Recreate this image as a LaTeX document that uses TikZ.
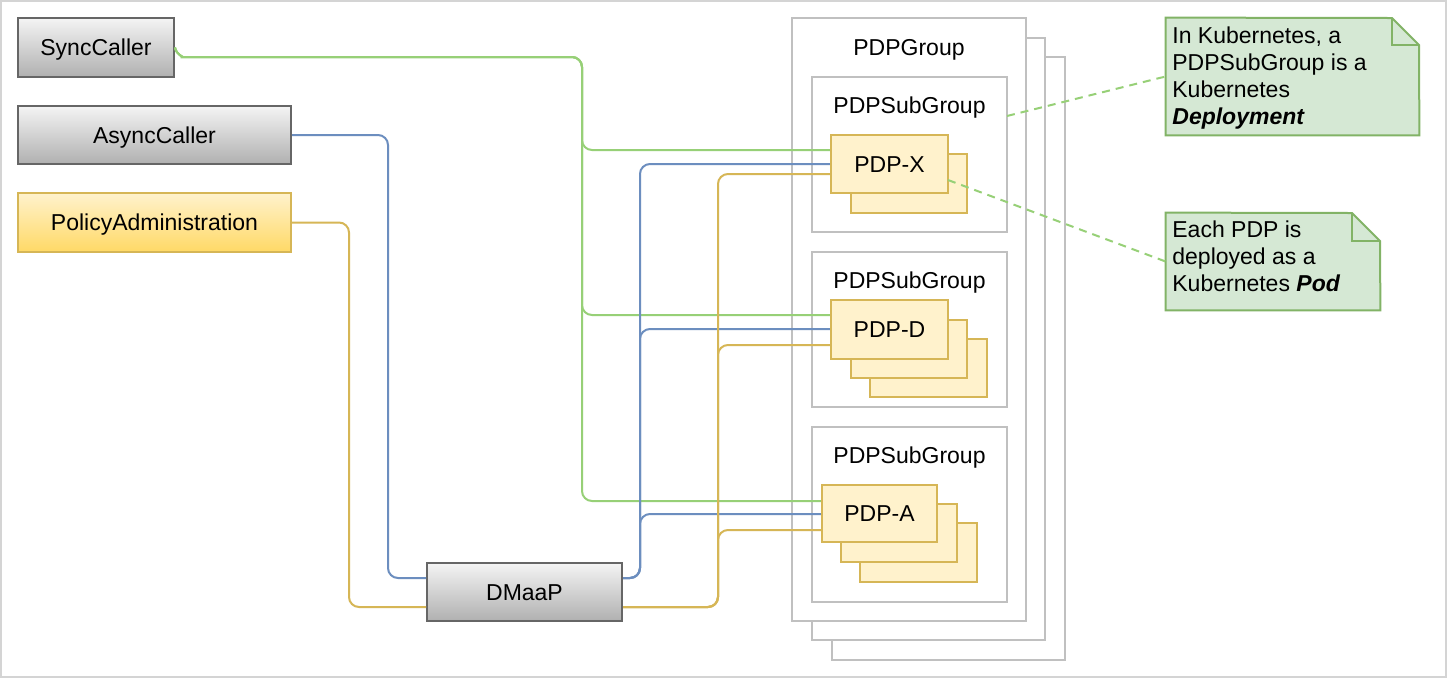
\documentclass[tikz,border=0pt]{standalone}
\usepackage{fontspec}
\setmainfont{Liberation Sans}
\usetikzlibrary{fit}
\definecolor{grn}{HTML}{97D077}
\definecolor{blu}{HTML}{6C8EBF}
\definecolor{gld}{HTML}{D6B656}
\definecolor{pdpfill}{HTML}{FFF2CC}
\definecolor{notefill}{HTML}{D5E8D4}
\definecolor{notedraw}{HTML}{82B366}
\definecolor{contdraw}{HTML}{C0C0C0}
\definecolor{framedraw}{HTML}{D4D4D4}
\definecolor{gtop}{HTML}{F4F4F4}
\definecolor{gbot}{HTML}{B0B0B0}
\definecolor{gdraw}{HTML}{666666}
\definecolor{ytop}{HTML}{FFF2CC}
\definecolor{ybot}{HTML}{FFD966}
\begin{document}
\begin{tikzpicture}[x=0.5pt,y=-0.5pt,
  every node/.style={font=\fontsize{11.5}{13.5}\selectfont, text=black},
  captext/.style={text height=8.2pt, text depth=0pt},
  greybox/.style={captext, draw=gdraw, line width=1pt, top color=gtop, bottom color=gbot, inner sep=0pt},
  yellowbox/.style={captext, draw=gld, line width=1pt, top color=ytop, bottom color=ybot, inner sep=0pt},
  contbox/.style={draw=contdraw, line width=1pt, fill=white, inner sep=0pt},
  pdpbox/.style={captext, draw=gld, line width=1pt, fill=pdpfill, inner sep=0pt},
  contlabel/.style={captext, inner sep=0pt},
  wire/.style={line width=1pt, rounded corners=5pt},
  greenwire/.style={wire, draw=grn},
  bluewire/.style={wire, draw=blu},
  goldwire/.style={wire, draw=gld},
  notelink/.style={draw=grn, line width=1pt, dash pattern=on 4pt off 3pt},
  noteshape/.style={draw=notedraw, fill=notefill, line width=1pt, line join=miter},
  notetext/.style={align=left, inner sep=0pt, anchor=north west}
]
\useasboundingbox (0,0) rectangle (1448,682);
\fill[white] (0,0) rectangle (1448,682);
\draw[framedraw, line width=1pt] (1,1) rectangle (1446,677);

% caller boxes
\node[greybox, minimum width=78pt, minimum height=29.5pt] (sync) at (96,47.5) {SyncCaller};
\node[greybox, minimum width=136.5pt, minimum height=29pt] (async) at (154.5,135) {AsyncCaller};
\node[yellowbox, minimum width=136.5pt, minimum height=29.5pt] (padmin) at (154.5,222.5) {PolicyAdministration};
\node[greybox, minimum width=97.5pt, minimum height=29pt] (dmaap) at (524.5,592) {DMaaP};

% PDPGroup stack
\node[contbox, fit={(832,57) (1065,660)}] (grp3) {};
\node[contbox, fit={(812,38) (1045,640)}] (grp2) {};
\node[contbox, fit={(792,18) (1026,621)}] (grp) {};
\node[contlabel] (grplabel) at (909,47) {PDPGroup};

% subgroups
\node[contbox, fit={(812,77) (1007,232)}] (sg1) {};
\node[contlabel] (sg1label) at (909.5,105) {PDPSubGroup};
\node[contbox, fit={(812,252) (1007,407)}] (sg2) {};
\node[contlabel] (sg2label) at (909.5,280) {PDPSubGroup};
\node[contbox, fit={(812,427) (1007,602)}] (sg3) {};
\node[contlabel] (sg3label) at (909.5,455) {PDPSubGroup};

% connectors: green
\draw[greenwire] (sync.east) to[out=-80,in=180] (192,57) -- (582,57) -- (582,150) -- (831,150);
\draw[greenwire] (sync.east) to[out=-80,in=180] (192,57) -- (582,57) -- (582,315) -- (831,315);
\draw[greenwire] (sync.east) to[out=-80,in=180] (192,57) -- (582,57) -- (582,501) -- (822,501);
% blue
\draw[bluewire] (async.east) -- (388,135) -- (388,578) -- (dmaap.west |- 0,578);
\draw[bluewire] (dmaap.east |- 0,578) -- (640,578) -- (640,164) -- (831,164);
\draw[bluewire] (dmaap.east |- 0,578) -- (640,578) -- (640,329) -- (831,329);
\draw[bluewire] (dmaap.east |- 0,578) -- (640,578) -- (640,514) -- (822,514);
% gold
\draw[goldwire] (padmin.east) -- (349,222.5) -- (349,607) -- (dmaap.west |- 0,607);
\draw[goldwire] (dmaap.east |- 0,607) -- (718,607) -- (718,174) -- (831,174);
\draw[goldwire] (dmaap.east |- 0,607) -- (718,607) -- (718,345) -- (831,345);
\draw[goldwire] (dmaap.east |- 0,607) -- (718,607) -- (718,530) -- (822,530);

% PDP-X
\node[pdpbox, fit={(851,154) (967,213)}] (pdpx2) {};
\node[pdpbox, minimum width=58.5pt, minimum height=29pt] (pdpx) at (889.5,164) {PDP-X};
% PDP-D
\node[pdpbox, fit={(870,339) (987,397)}] (pdpd3) {};
\node[pdpbox, fit={(851,320) (967,378)}] (pdpd2) {};
\node[pdpbox, minimum width=58.5pt, minimum height=29.5pt] (pdpd) at (889.5,329.5) {PDP-D};
% PDP-A
\node[pdpbox, fit={(860,523) (977,582)}] (pdpa3) {};
\node[pdpbox, fit={(841,504) (957,562)}] (pdpa2) {};
\node[pdpbox, minimum width=57.5pt, minimum height=28.5pt] (pdpa) at (879.5,513.5) {PDP-A};

% notes
\node[inner sep=0pt, fit={(1166,18) (1419,135)}] (note1) {};
\draw[noteshape] (note1.north west) -- (1392,18) -- (1419,45) -- (note1.south east) -- (note1.south west) -- cycle;
\draw[noteshape, fill=none] (1392,18) -- (1392,45) -- (1419,45);
\node[notetext] (note1text) at (1172,26) {In Kubernetes, a\\PDPSubGroup is a\\Kubernetes\\\textbf{\textit{Deployment}}};

\node[inner sep=0pt, fit={(1166,213) (1380,310)}] (note2) {};
\draw[noteshape] (note2.north west) -- (1352,213) -- (1380,241) -- (note2.south east) -- (note2.south west) -- cycle;
\draw[noteshape, fill=none] (1352,213) -- (1352,241) -- (1380,241);
\node[notetext] (note2text) at (1172,220) {Each PDP is\\deployed as a\\Kubernetes \textbf{\textit{Pod}}};

% dashed links
\coordinate (d1) at (1007,116);
\coordinate (d2) at (948,180);
\draw[notelink] (d1) -- (note1.west);
\draw[notelink] (d2) -- (note2.west);
\end{tikzpicture}
\end{document}
